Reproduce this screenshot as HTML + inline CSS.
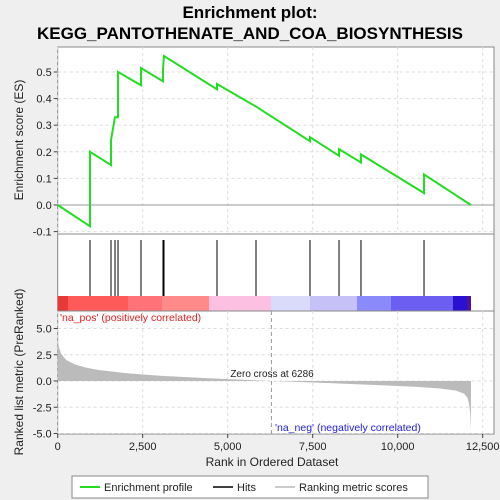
<!DOCTYPE html>
<html><head><meta charset="utf-8"><style>
html,body{margin:0;background:#efefef;font-family:"Liberation Sans",sans-serif;overflow:hidden;width:500px;height:500px}
svg{display:block}
svg text{font-family:"Liberation Sans",sans-serif}
</style></head><body>
<svg id="c" width="500" height="500" xmlns="http://www.w3.org/2000/svg">
<rect width="500" height="500" fill="#efefef"/>
<text x="250" y="18" font-size="17" font-weight="bold" text-anchor="middle">Enrichment plot:</text>
<text x="250" y="39" font-size="17" font-weight="bold" text-anchor="middle">KEGG_PANTOTHENATE_AND_COA_BIOSYNTHESIS</text>
<g id="gtop"></g><g id="ghits"></g><g id="gbot"></g>
</svg>
<script>
const hitRanks=[950,1568,1685,1774,2450,3097,3126,4685,5832,7420,8274,8920,10774];
const esRanks=[0,950,950,1568,1568,1685,1774,1774,2450,2450,3097,3097,3126,4685,4685,5832,7420,7420,8274,8274,8920,8920,10774,10774,12155];
const esValues=[0,-0.08,0.2,0.15,0.245,0.33,0.33,0.5,0.45,0.515,0.465,0.51,0.56,0.435,0.455,0.37,0.24,0.255,0.185,0.21,0.16,0.19,0.045,0.115,0];
const metricRanks=[0,30,100,250,500,800,1200,2000,3000,4500,6286,8000,9500,10500,11200,11700,11950,12050,12100,12130,12155];
const metricValues=[4.0,3.3,2.6,2.0,1.6,1.3,1.05,0.75,0.5,0.25,0,-0.2,-0.4,-0.55,-0.7,-0.9,-1.2,-1.6,-2.2,-3.0,-4.6];
const xTicks=[0,2500,5000,7500,10000,12500];
const esTicks=[-0.1,0,0.1,0.2,0.3,0.4,0.5];
const mTicks=[-5,-2.5,0,2.5,5];
const NS="http://www.w3.org/2000/svg";
const L=57.7,R=494;
const X=r=>L+r*0.034;
const YT=v=>205-v*266;
const YB=v=>381-v*10.5;
function mk(p,t,a){const e=document.createElementNS(NS,t);for(const k in a)e.setAttribute(k,a[k]);p.appendChild(e);return e;}
const svg=document.getElementById('c');
const gTop=document.getElementById('gtop'),gHits=document.getElementById('ghits'),gBot=document.getElementById('gbot');
let p1=mk(gTop,'rect',{x:L,y:47,width:R-L,height:187,fill:'#fff',stroke:'#888'});


let p2=mk(gHits,'rect',{x:L,y:234,width:R-L,height:77,fill:'#fff',stroke:'#888'});


let p3=mk(gBot,'rect',{x:L,y:311,width:R-L,height:123,fill:'#fff',stroke:'#888'});


xTicks.forEach(t=>{
 mk(gTop,'line',{x1:X(t),x2:X(t),y1:47,y2:234,stroke:'#ddd','stroke-dasharray':'3,3'});
 mk(gBot,'line',{x1:X(t),x2:X(t),y1:311,y2:434,stroke:'#ddd','stroke-dasharray':'3,3'});
 mk(gBot,'line',{x1:X(t),x2:X(t),y1:434,y2:438,stroke:'#444'});
 let tx=mk(svg,'text',{x:X(t),y:450,'font-size':11,'text-anchor':'middle',fill:'#222'});
 tx.textContent=t.toLocaleString('en-US');
 
 
});
esTicks.forEach(t=>{
 mk(gTop,'line',{x1:L,x2:R,y1:YT(t),y2:YT(t),stroke:'#ddd','stroke-dasharray':'3,3'});
 mk(gTop,'line',{x1:L-4,x2:L,y1:YT(t),y2:YT(t),stroke:'#444'});
 let tx=mk(gTop,'text',{x:L-6,y:YT(t)+4,'font-size':11,'text-anchor':'end',fill:'#222'});
 tx.textContent=t.toFixed(1);
 
 
});
mk(gTop,'line',{x1:L,x2:R,y1:YT(0),y2:YT(0),stroke:'#999'});
mTicks.forEach(t=>{
 mk(gBot,'line',{x1:L,x2:R,y1:YB(t),y2:YB(t),stroke:'#ddd','stroke-dasharray':'3,3'});
 mk(gBot,'line',{x1:L-4,x2:L,y1:YB(t),y2:YB(t),stroke:'#444'});
 let tx=mk(gBot,'text',{x:L-6,y:YB(t)+4,'font-size':11,'text-anchor':'end',fill:'#222'});
 tx.textContent=t.toFixed(1);
 
 
});
let es=mk(gTop,'polyline',{points:esRanks.map((r,i)=>X(r)+','+YT(esValues[i])).join(' '),fill:'none',stroke:'#22dd22','stroke-width':2});


const segs=[[57.7,68,'#e83838'],[68,128,'#ff5a5a'],[128,162,'#ff7278'],[162,209,'#ff8a8a'],[209,271,'#fcc0e2'],[271,310,'#dadafa'],[310,357,'#c6c2f8'],[357,391,'#8a8afa'],[391,453,'#6b5ef0'],[453,467,'#2a10d0'],[467,471,'#5210a0']];
segs.forEach(s=>{let r=mk(gHits,'rect',{x:s[0],y:296,width:s[1]-s[0],height:15,fill:s[2]});
 
 });
hitRanks.forEach(r=>{let l=mk(gHits,'line',{x1:X(r),x2:X(r),y1:240,y2:296,stroke:'#000','stroke-width':1});
 
 });
let pts=metricRanks.map((r,i)=>X(r)+','+YB(metricValues[i]));
let area=mk(gBot,'polygon',{points:X(0)+','+YB(0)+' '+pts.join(' ')+' '+X(12155)+','+YB(0),fill:'#bbb'});


mk(gBot,'line',{x1:X(6286),x2:X(6286),y1:311,y2:434,stroke:'#999','stroke-dasharray':'4,3'});
let z=mk(gBot,'text',{x:272,y:377,'font-size':10,'text-anchor':'middle',fill:'#222'});z.textContent='Zero cross at 6286';


let pn=mk(gBot,'text',{x:60,y:321,'font-size':10.5,fill:'#e02020'});pn.textContent="'na_pos' (positively correlated)";


let nn=mk(gBot,'text',{x:275,y:431,'font-size':10.5,fill:'#2020e0'});nn.textContent="'na_neg' (negatively correlated)";


let yt=mk(svg,'text',{x:0,y:0,'font-size':12,'text-anchor':'middle',transform:'translate(23,140) rotate(-90)',fill:'#222'});yt.textContent='Enrichment score (ES)';


let yb=mk(svg,'text',{x:0,y:0,'font-size':12,'text-anchor':'middle',transform:'translate(23,372) rotate(-90)',fill:'#222'});yb.textContent='Ranked list metric (PreRanked)';


let xt=mk(svg,'text',{x:272,y:466,'font-size':12,'text-anchor':'middle',fill:'#222'});xt.textContent='Rank in Ordered Dataset';


let lg=mk(svg,'g',{});


mk(lg,'rect',{x:72,y:476,width:356,height:22,fill:'#fff',stroke:'#888'});
mk(lg,'line',{x1:80,x2:100,y1:487,y2:487,stroke:'#22dd22','stroke-width':2});
let t1=mk(lg,'text',{x:104,y:491,'font-size':11,fill:'#222'});t1.textContent='Enrichment profile';


mk(lg,'line',{x1:213,x2:233,y1:487,y2:487,stroke:'#000','stroke-width':1.5});
let t2=mk(lg,'text',{x:237,y:491,'font-size':11,fill:'#222'});t2.textContent='Hits';


mk(lg,'line',{x1:275,x2:295,y1:487,y2:487,stroke:'#bbb','stroke-width':1.5});
let t3=mk(lg,'text',{x:299,y:491,'font-size':11,fill:'#222'});t3.textContent='Ranking metric scores';


</script>
</body></html>
